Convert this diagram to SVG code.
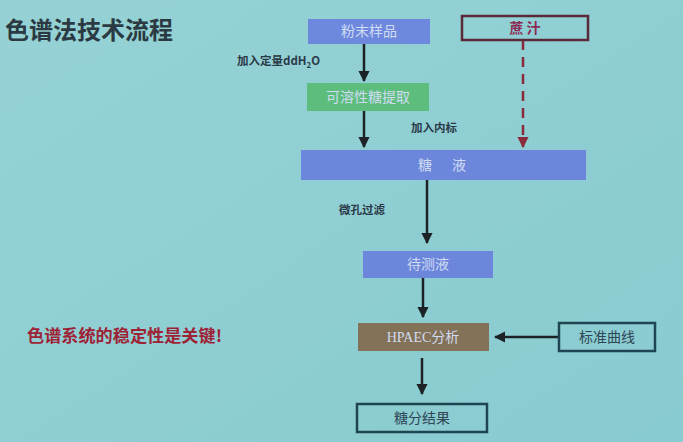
<svg xmlns="http://www.w3.org/2000/svg" width="683" height="442" viewBox="0 0 683 442">
<defs>
<linearGradient id="bg" x1="0" y1="0" x2="1" y2="1">
<stop offset="0" stop-color="#96d2d5"/>
<stop offset="1" stop-color="#88cbd0"/>
</linearGradient>
<marker id="ah" viewBox="0 0 10 10" refX="9" refY="5" markerWidth="4.5" markerHeight="4.5" orient="auto" markerUnits="strokeWidth">
<path d="M0,0 L10,5 L0,10 z" fill="#1c2226"/>
</marker>
<marker id="ahr" viewBox="0 0 10 10" refX="9" refY="5" markerWidth="4.5" markerHeight="4.5" orient="auto" markerUnits="strokeWidth">
<path d="M0,0 L10,5 L0,10 z" fill="#8a2a3a"/>
</marker>
</defs>
<style>
text{font-family:"Noto Sans CJK SC","Noto Sans",sans-serif;}
.lbl{font-size:11.5px;font-weight:bold;fill:#2a3a48;}
.inb{font-size:14px;fill:#cfdcf2;text-anchor:middle;}
.dk{font-size:14px;fill:#2f4656;text-anchor:middle;}
.ln{stroke:#1c2226;stroke-width:2.5;fill:none;marker-end:url(#ah);}
.serif{font-family:"Liberation Serif","Noto Sans CJK SC",serif;}
</style>
<rect width="683" height="442" fill="url(#bg)"/>
<text x="5" y="39" font-size="24" font-weight="bold" fill="#2b3a42">色谱法技术流程</text>
<text x="27" y="342" font-size="16.5" font-weight="bold" fill="#9e2236" textLength="195" lengthAdjust="spacingAndGlyphs">色谱系统的稳定性是关键!</text>

<g id="connectors">
<line class="ln" x1="364" y1="44" x2="364" y2="81"/>
<line class="ln" x1="364" y1="111" x2="364" y2="147"/>
<line x1="523" y1="40" x2="523" y2="147" stroke="#8a2a3a" stroke-width="2.5" stroke-dasharray="10,7" marker-end="url(#ahr)"/>
<line class="ln" x1="427" y1="180" x2="427" y2="243"/>
<line class="ln" x1="423" y1="278" x2="423" y2="317"/>
<line class="ln" x1="559" y1="337" x2="495" y2="337"/>
<line class="ln" x1="422" y1="358" x2="422" y2="394"/>
<text class="lbl" x="237" y="65">加入定量ddH<tspan font-size="8" dy="3">2</tspan><tspan dy="-3">O</tspan></text>
<text class="lbl" x="411" y="132">加入内标</text>
<text class="lbl" x="339" y="214" font-size="12">微孔过滤</text>
</g>

<g id="n1">
<rect x="308" y="19" width="122" height="25" fill="#6e88de"/>
<text class="inb" x="369" y="36" font-size="13">粉末样品</text>
</g>
<g id="n2">
<rect x="462" y="16" width="126" height="24" fill="none" stroke="#5a2a38" stroke-width="2.5"/>
<text x="525" y="33" font-size="14" font-weight="bold" fill="#8a2a55" text-anchor="middle">蔗  汁</text>
</g>
<g id="n3">
<rect x="307" y="83" width="122" height="28" fill="#5dbd7d"/>
<text class="inb" x="368" y="102" fill="#cdeedd">可溶性糖提取</text>
</g>
<g id="n4">
<rect x="301" y="150" width="285" height="30" fill="#6c86dc"/>
<text class="inb" x="425" y="170">糖</text>
<text class="inb" x="459" y="170">液</text>
</g>
<g id="n5">
<rect x="363" y="251" width="130" height="27" fill="#6c86dc"/>
<text class="inb" x="428" y="269">待测液</text>
</g>
<g id="n6">
<rect x="358" y="323" width="131" height="28" fill="#847258"/>
<text class="inb serif" x="423" y="342" font-size="13" fill="#e8e4dc">HPAEC分析</text>
</g>
<g id="n7">
<rect x="559" y="323" width="96" height="28" fill="none" stroke="#1f4452" stroke-width="2.5"/>
<text class="dk" x="607" y="342">标准曲线</text>
</g>
<g id="n8">
<rect x="357" y="404" width="130" height="28" fill="none" stroke="#1f4452" stroke-width="2.5"/>
<text class="dk" x="422" y="423">糖分结果</text>
</g>
</svg>
